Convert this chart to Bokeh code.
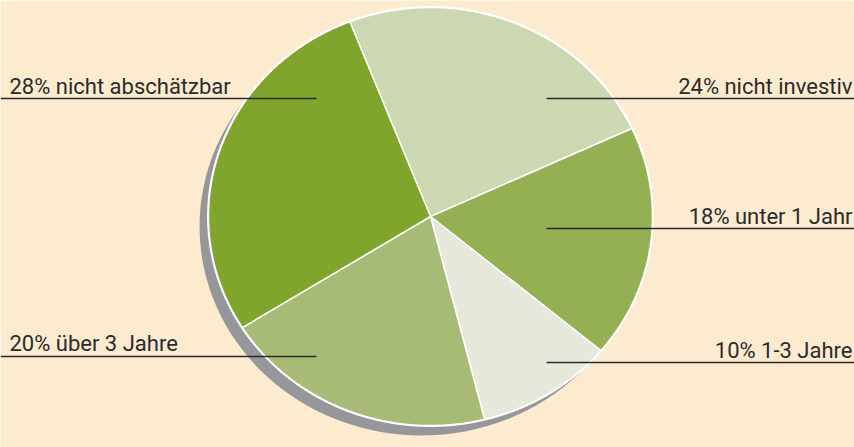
import math
from bokeh.plotting import figure
from bokeh.models import Range1d, ColumnDataSource
from bokeh.core.properties import value
from bokeh.embed import file_html
from bokeh.resources import INLINE

# ---- data ----
categories = ["nicht investiv", "unter 1 Jahr", "1-3 Jahre", "über 3 Jahre", "nicht abschätzbar"]
shares = [24, 18, 10, 20, 28]
colors = ["#CCD8B2", "#94B052", "#E5E8DA", "#A8BB76", "#7FA52C"]
label_texts = ["24% nicht investiv", "18% unter 1 Jahr", "10% 1-3 Jahre",
               "20% über 3 Jahre", "28% nicht abschätzbar"]

# ---- layout ----
W, H = 854, 447
cx, cy = 430, 216
rx, ry = 222, 209
start_deg = -21.3  # clockwise from 12 o'clock
shadow_dx, shadow_dy = -9, 10

# label side: 1 right, -1 left ; baseline y and leader-line y
label_side = [1, 1, 1, -1, -1]
label_base = [86, 216, 350, 343, 86]
line_y = [98, 228, 362, 356, 98]

p = figure(width=W, height=H, x_range=Range1d(0, W), y_range=Range1d(H, 0),
           output_backend="svg", toolbar_location=None, min_border=0)
p.axis.visible = False
p.grid.visible = False
p.outline_line_color = None
p.background_fill_color = "#FDEBD0"
p.border_fill_color = "#FDEBD0"

# shadow
p.ellipse(x=[cx + shadow_dx], y=[cy + shadow_dy], width=[2 * rx], height=[2 * ry],
          fill_color="#96979B", line_color=None)
# white rim
p.ellipse(x=[cx], y=[cy], width=[2 * rx + 3], height=[2 * ry + 3],
          fill_color="white", line_color=None)

xs, ys = [], []
total = sum(shares)
acc = 0.0
for s in shares:
    a0 = start_deg + 360.0 * acc / total
    a1 = start_deg + 360.0 * (acc + s) / total
    acc += s
    n = max(8, int(abs(a1 - a0) * 2))
    px, py = [cx], [cy]
    for k in range(n + 1):
        t = math.radians(a0 + (a1 - a0) * k / n)
        px.append(cx + rx * math.sin(t))
        py.append(cy - ry * math.cos(t))
    xs.append(px)
    ys.append(py)

p.patches(xs=xs, ys=ys, fill_color=colors, line_color="white", line_width=1.5)

# leader lines and labels
x0s, x1s, tx, align = [], [], [], []
for side in label_side:
    if side > 0:
        x0s.append(546); x1s.append(W); tx.append(W - 2); align.append("right")
    else:
        x0s.append(0); x1s.append(316); tx.append(9); align.append("left")

p.segment(x0=x0s, y0=line_y, x1=x1s, y1=line_y, line_color="#2b2b2b", line_width=1.5)
src = ColumnDataSource(dict(x=tx, y=label_base, t=label_texts, a=align))
p.text(x="x", y="y", text="t", text_align="a", text_baseline="alphabetic", source=src,
       text_font=value("Roboto"), text_font_size="22px", text_color="#2b2b2b")

open("out.html", "w").write(file_html(p, INLINE))
